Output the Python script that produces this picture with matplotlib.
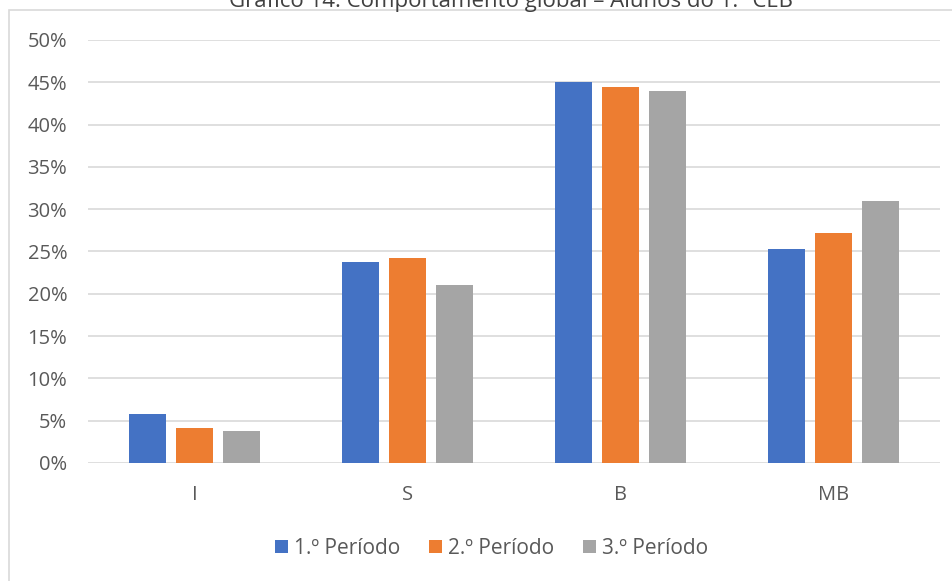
import matplotlib.pyplot as plt
from matplotlib.patches import Rectangle
from matplotlib.ticker import PercentFormatter
import numpy as np

plt.rcParams['font.family'] = ['Open Sans', 'DejaVu Sans']

# Comportamento global por nível, em percentagem
categorias = ['I', 'S', 'B', 'MB']
periodo_1 = [5.8, 23.8, 45.0, 25.3]
periodo_2 = [4.1, 24.2, 44.4, 27.2]
periodo_3 = [3.8, 21.0, 44.0, 31.0]
series_nomes = ['1.º Período', '2.º Período', '3.º Período']
cores = ['#4472C4', '#ED7D31', '#A5A5A5']

fig = plt.figure(figsize=(9.53, 5.81), dpi=100)
ax = fig.add_axes([0.0923, 0.2031, 0.8941, 0.7281])

# moldura da área do gráfico (cortada nas margens)
fig.patches.append(Rectangle((9 / 953, -0.1), 1.2, 1 - 10 / 581 + 0.1,
                             transform=fig.transFigure, fill=False,
                             edgecolor='#d9d9d9', linewidth=1.2))

x = np.arange(len(categorias))
largura = 0.175
passo = 0.222
for i, (valores, nome, cor) in enumerate(zip([periodo_1, periodo_2, periodo_3], series_nomes, cores)):
    ax.bar(x + (i - 1) * passo, valores, largura, color=cor, label=nome, zorder=3)

ax.set_xlim(-0.5, 3.5)
ax.set_ylim(0, 50)
ax.set_yticks(np.arange(0, 51, 5))
ax.yaxis.set_major_formatter(PercentFormatter(decimals=0))
ax.set_xticks(x)
ax.set_xticklabels(categorias)
ax.grid(axis='y', color='#d9d9d9', linewidth=1.2, zorder=0)
for s in ax.spines.values():
    s.set_visible(False)
ax.tick_params(axis='both', length=0, labelsize=14.5, colors='#595959')
ax.tick_params(axis='y', pad=15)
ax.tick_params(axis='x', pad=16)

fig.text(0.536, 1 - 7 / 581, 'Gráfico 14: Comportamento global – Alunos do 1.º CEB',
         ha='center', va='baseline', fontsize=16, color='#404040')

fig.legend(loc='center', bbox_to_anchor=(0.516, 1 - 548 / 581), ncol=3,
           frameon=False, fontsize=15, labelcolor='#595959',
           handlelength=0.6, handleheight=0.6, handletextpad=0.3,
           columnspacing=1.4)

fig.savefig('out.png', dpi=100)
